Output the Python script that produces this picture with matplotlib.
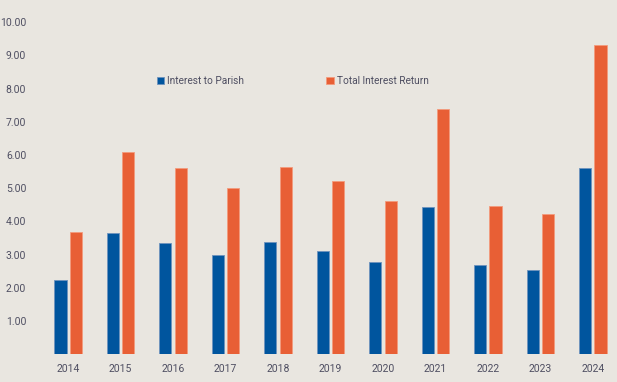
import matplotlib.pyplot as plt
import numpy as np

years = ['2014', '2015', '2016', '2017', '2018', '2019',
         '2020', '2021', '2022', '2023', '2024']
interest_to_parish = [2.22, 3.64, 3.36, 3.00, 3.37, 3.12, 2.79, 4.43, 2.68, 2.53, 5.60]
total_interest_return = [3.68, 6.09, 5.62, 5.01, 5.64, 5.22, 4.62, 7.38, 4.47, 4.21, 9.30]
yticks = [1, 2, 3, 4, 5, 6, 7, 8, 9, 10]

bg = '#E9E6E0'
blue = '#00559E'
orange = '#E85F35'
text_col = '#4F4F62'

plt.rcParams['font.family'] = ['Roboto', 'DejaVu Sans']

fig = plt.figure(figsize=(6.17, 3.82), dpi=100, facecolor=bg)
ax = fig.add_axes([0.065, 0.073, 0.935, 0.895], facecolor=bg)

x = np.arange(len(years))
w = 0.23
off = 0.145
ax.bar(x - off, interest_to_parish, w, color=blue, edgecolor='#6f93bd',
       linewidth=0.6, label='Interest to Parish')
ax.bar(x + off, total_interest_return, w, color=orange, edgecolor='#f39a7c',
       linewidth=0.6, label='Total Interest Return')

ax.set_xlim(-0.533, 10.46)
ax.set_ylim(0, 10.3)
ax.set_xticks(x)
ax.set_xticklabels(years)
ax.set_yticks(yticks)
ax.set_yticklabels(['%.2f' % v for v in yticks])
ax.tick_params(axis='both', length=0, labelsize=7.5, colors=text_col)
ax.tick_params(axis='x', pad=7)
ax.tick_params(axis='y', pad=10)
for s in ax.spines.values():
    s.set_visible(False)

ax.legend(loc='center', bbox_to_anchor=(0.438, 0.80), ncol=2, frameon=False,
          fontsize=7.3, labelcolor=text_col, handlelength=0.7, handleheight=0.7,
          handletextpad=0.3, columnspacing=8.1)

fig.savefig('out.png', dpi=100, facecolor=bg)
